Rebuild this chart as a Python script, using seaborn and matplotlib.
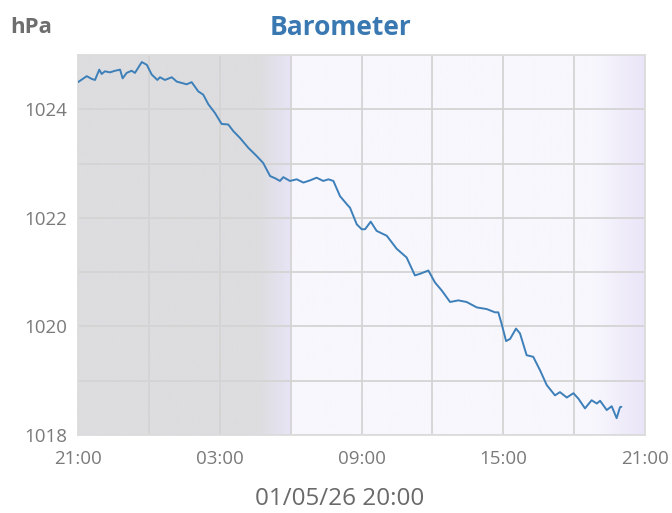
import numpy as np
import pandas as pd
import matplotlib
matplotlib.use("Agg")
import matplotlib.pyplot as plt
import matplotlib.dates as mdates
import seaborn as sns

# ======================================================
# Data
# ======================================================

start = pd.Timestamp("2026-01-04 21:00")

hours = [
    0.00, 0.37, 0.58, 0.72, 0.90, 1.00, 1.14, 1.35, 1.57, 1.78,
    1.89, 2.06, 2.27, 2.41, 2.70, 2.91, 3.12, 3.36, 3.47, 3.68,
    3.97, 4.18, 4.60, 4.81, 5.09, 5.30, 5.52, 5.80, 6.08, 6.36,
    6.57, 6.86, 7.21, 7.56, 7.84, 8.13, 8.34, 8.55, 8.69, 8.97,
    9.26, 9.54, 9.82, 10.10, 10.38, 10.60, 10.81, 11.09, 11.44, 11.51,
    11.80, 12.01, 12.15, 12.39, 12.64, 13.07, 13.49, 13.91, 14.26, 14.48,
    14.83, 15.11, 15.40, 15.75, 16.10, 16.45, 16.88, 17.30, 17.65, 17.79,
    17.93, 18.12, 18.29, 18.54, 18.71, 18.99, 19.27, 19.56, 19.84, 20.19,
    20.40, 20.69, 20.97, 21.18, 21.46, 21.74, 21.96, 22.10, 22.38, 22.59,
    22.80, 22.94, 23.00,
]

pressure = [
    1024.50, 1024.61, 1024.56, 1024.54, 1024.73, 1024.65, 1024.70, 1024.68, 1024.71, 1024.73,
    1024.57, 1024.67, 1024.71, 1024.67, 1024.87, 1024.82, 1024.64, 1024.54, 1024.59, 1024.54,
    1024.59, 1024.51, 1024.46, 1024.50, 1024.33, 1024.27, 1024.09, 1023.93, 1023.73, 1023.72,
    1023.60, 1023.47, 1023.29, 1023.14, 1023.01, 1022.77, 1022.73, 1022.68, 1022.75, 1022.68,
    1022.71, 1022.65, 1022.69, 1022.74, 1022.68, 1022.71, 1022.68, 1022.40, 1022.22, 1022.19,
    1021.88, 1021.79, 1021.79, 1021.93, 1021.76, 1021.67, 1021.43, 1021.27, 1020.94, 1020.97,
    1021.03, 1020.81, 1020.66, 1020.45, 1020.48, 1020.45, 1020.35, 1020.32, 1020.26, 1020.26,
    1020.05, 1019.73, 1019.77, 1019.96, 1019.87, 1019.47, 1019.44, 1019.19, 1018.92, 1018.73,
    1018.79, 1018.69, 1018.77, 1018.67, 1018.49, 1018.64, 1018.58, 1018.63, 1018.46, 1018.53,
    1018.31, 1018.51, 1018.52,
]

df = pd.DataFrame({
    "time": start + pd.to_timedelta(hours, unit="h"),
    "pressure": pressure,
})

# ======================================================
# Style
# ======================================================

sns.set_theme(style="white")
plt.rcParams["font.family"] = ["Open Sans", "DejaVu Sans"]

fig = plt.figure(figsize=(6.72, 5.13), dpi=100)
ax = fig.add_axes([78 / 672, 78 / 513, 567 / 672, 380 / 513])

x0 = mdates.date2num(start)
x1 = mdates.date2num(start + pd.Timedelta(hours=24))

# day / night background, built column by column
n = 600
h = np.linspace(0, 24, n)
gray = np.array([221, 221, 224]) / 255
lav = np.array([232, 228, 246]) / 255
day = np.array([248, 247, 253]) / 255
edge = np.array([234, 229, 248]) / 255

bg = np.zeros((1, n, 3))
for i, hh in enumerate(h):
    if hh < 7.7:
        c = gray
    elif hh < 9.0:
        f = (hh - 7.7) / 1.3
        c = gray * (1 - f) + lav * f
    elif hh < 21.8:
        c = day
    else:
        f = (hh - 21.8) / 2.2
        c = day * (1 - f) + edge * f
    bg[0, i] = c

ax.imshow(bg, extent=(x0, x1, 1018, 1025), aspect="auto", zorder=0)

# ======================================================
# Line
# ======================================================

sns.lineplot(data=df, x="time", y="pressure", ax=ax,
             color="#3d7fb9", linewidth=1.4, zorder=3)

ax.set_xlim(x0, x1)
ax.set_ylim(1018, 1025)

ax.xaxis.set_major_locator(mdates.HourLocator(byhour=[3, 9, 15, 21]))
ax.xaxis.set_major_formatter(mdates.DateFormatter("%H:%M"))
ax.xaxis.set_minor_locator(mdates.HourLocator(byhour=[0, 6, 12, 18]))
ax.set_yticks([1018, 1020, 1022, 1024])
ax.set_yticks([1019, 1021, 1023, 1025], minor=True)

ax.set_axisbelow(True)
ax.grid(True, which="both", color="#d4d4d4", linewidth=1.3)
ax.tick_params(axis="both", which="both", length=0, labelsize=13.5,
               labelcolor="#7a7a7a")
ax.tick_params(axis="x", pad=11)
ax.tick_params(axis="y", pad=8)

for s in ax.spines.values():
    s.set_color("#dcdcdc")
    s.set_linewidth(1.3)

ax.set_xlabel("")
ax.set_ylabel("")

fig.text(0.506, 0.028, "01/05/26 20:00", ha="center", va="center",
         fontsize=17.5, color="#6a6a6a")
fig.text(0.506, 0.947, "Barometer", ha="center", va="center",
         fontsize=19, fontweight="bold", color="#3a78b2")
fig.text(0.015, 0.947, "hPa", ha="left", va="center",
         fontsize=16, fontweight="bold", color="#6e6e6e")

plt.savefig("out.png", dpi=100)
